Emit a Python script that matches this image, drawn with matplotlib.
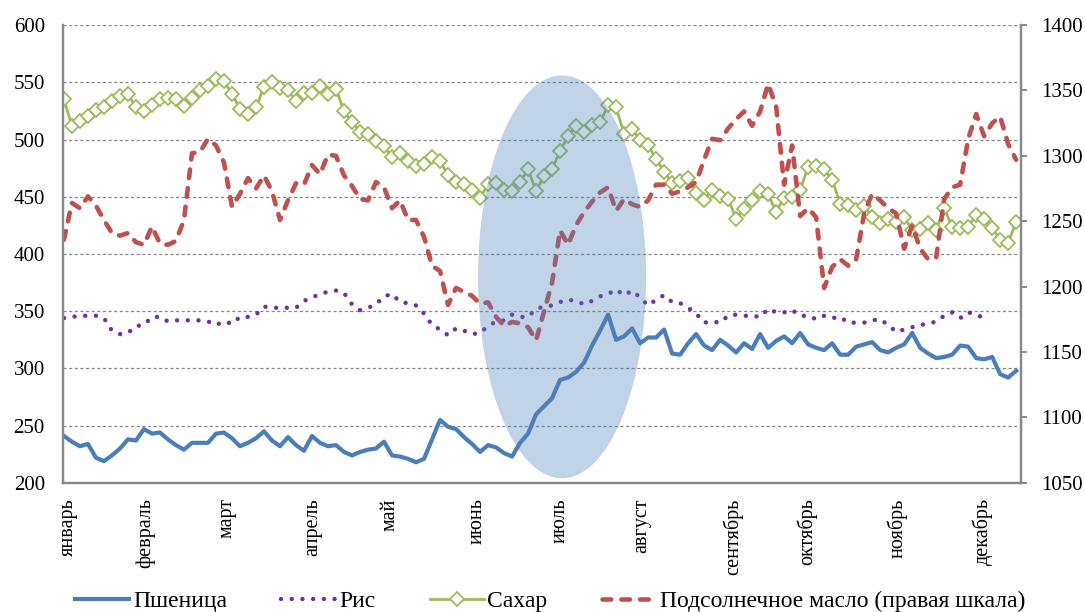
import numpy as np
import matplotlib
matplotlib.use("Agg")
import matplotlib.pyplot as plt
from matplotlib.patches import Ellipse

plt.rcParams["font.family"] = ["Liberation Serif", "DejaVu Serif"]

# samples over the year (index = observation number)
months = ["январь", "февраль", "март", "апрель", "май", "июнь",
          "июль", "август", "сентябрь", "октябрь", "ноябрь", "декабрь"]
month_pos = [0.5, 10.25, 20.4, 31.1, 40.75, 51.6, 62, 72.25, 83.6, 92.9, 104.1, 114.75]

wheat = [241, 236, 232, 234, 222, 219, 224, 230, 238, 237,
         247, 243, 244, 238, 233, 229, 235, 235, 235, 243,
         244, 239, 232, 235, 239, 245, 237, 232, 240, 233,
         228, 241, 235, 232, 233, 227, 224, 227, 229, 230,
         236, 224, 223, 221, 218, 221, 238, 255, 249, 247,
         240, 234, 227, 233, 231, 226, 223, 235, 243, 260,
         267, 274, 290, 292, 297, 305, 320, 333, 347, 325,
         328, 335, 322, 327, 327, 334, 313, 312, 322, 330,
         320, 316, 325, 320, 314, 322, 317, 330, 318, 324,
         328, 322, 331, 321, 318, 316, 322, 312, 312, 319,
         321, 323, 316, 314, 318, 321, 331, 318, 313, 309,
         310, 312, 320, 319, 309, 308, 310, 295, 292, 298]

rice = [344, 345, 346, 346, 346, 344, 333, 330, 331, 337,
        338, 345, 345, 341, 342, 342, 342, 342, 341, 338,
        341, 339, 345, 345, 347, 354, 353, 353, 353, 353,
        359, 362, 365, 367, 368, 366, 356, 351, 353, 356,
        363, 365, 358, 357, 355, 348, 338, 334, 329, 335,
        333, 330, 331, 337, 341, 342, 347, 345, 345, 352,
        354, 355, 358, 360, 359, 356, 359, 363, 365, 369,
        364, 368, 362, 355, 360, 364, 358, 357, 353, 348,
        340, 341, 340, 346, 347, 346, 346, 345, 352, 349,
        349, 351, 346, 346, 343, 346, 344, 345, 340, 340,
        340, 342, 343, 338, 332, 334, 336, 338, 339, 341,
        346, 349, 344, 349, 347, 344]

sugar = [535, 512, 516, 521, 526, 528, 534, 538, 540, 528,
         525, 530, 535, 536, 535, 529, 536, 543, 547, 553,
         551, 540, 527, 522, 528, 546, 550, 545, 543, 534,
         541, 541, 547, 540, 544, 525, 515, 507, 505, 499,
         494, 485, 488, 481, 477, 479, 485, 481, 469, 463,
         461, 456, 449, 461, 462, 456, 455, 463, 474, 455,
         468, 474, 490, 503, 512, 507, 513, 515, 530, 528,
         505, 509, 500, 495, 483, 472, 462, 464, 466, 453,
         447, 456, 451, 448, 431, 439, 447, 455, 452, 437,
         449, 450, 456, 476, 477, 474, 465, 444, 443, 438,
         442, 432, 427, 431, 428, 432, 421, 422, 427, 421,
         440, 424, 423, 424, 434, 431, 423, 412, 410, 428]

oil = [1236, 1264, 1260, 1269, 1262, 1251, 1241, 1239, 1241, 1234,
       1232, 1246, 1233, 1232, 1235, 1251, 1302, 1303, 1313, 1308,
       1295, 1261, 1271, 1283, 1275, 1285, 1273, 1251, 1266, 1279,
       1278, 1293, 1286, 1301, 1300, 1285, 1277, 1267, 1266, 1280,
       1276, 1260, 1266, 1251, 1251, 1238, 1216, 1212, 1186, 1199,
       1196, 1193, 1187, 1188, 1177, 1170, 1173, 1172, 1169, 1159,
       1181, 1203, 1243, 1232, 1247, 1257, 1265, 1272, 1276, 1258,
       1267, 1263, 1261, 1266, 1278, 1278, 1271, 1273, 1276, 1280,
       1297, 1313, 1312, 1321, 1328, 1334, 1323, 1334, 1355, 1338,
       1278, 1308, 1254, 1260, 1253, 1199, 1215, 1221, 1216, 1221,
       1256, 1271, 1266, 1260, 1256, 1229, 1247, 1229, 1221, 1222,
       1267, 1276, 1278, 1313, 1332, 1315, 1325, 1330, 1309, 1297]

# highlighted area: centre (x, y), width, height in left-axis units
highlight = (62.25, 380, 21, 352)

grey = "#888888"

fig = plt.figure(figsize=(10.85, 6.12), dpi=100)
ax = fig.add_axes([0.058, 0.211, 0.883, 0.748])
ax2 = ax.twinx()

l1, = ax.plot(np.arange(len(wheat)), wheat, color="#4a7ebb", lw=3,
              solid_joinstyle="round", label="Пшеница")
l2, = ax.plot(np.arange(len(rice)), rice, color="#7030a0", lw=3.2,
              dashes=(0.01, 2.4), dash_capstyle="round", label="Рис")
l3, = ax.plot(np.arange(len(sugar)), sugar, color="#9bbb59", lw=2,
              marker="D", ms=7, mfc="white", mec="#9bbb59", mew=1.3,
              label="Сахар")
l4, = ax2.plot(np.arange(len(oil)), oil, color="#c0504d", lw=3.3,
               dashes=(1.9, 2.2), dash_capstyle="round",
               label="Подсолнечное масло (правая шкала)")

ell = Ellipse(highlight[:2], highlight[2], highlight[3], transform=ax.transData,
              facecolor="#4f81bd", edgecolor="none", alpha=0.35, zorder=10)
ax2.add_patch(ell)

ax.set_xlim(-0.125, 119.6)
ax.set_ylim(200, 600)
ax2.set_ylim(1050, 1400)
ax.set_yticks(np.arange(200, 601, 50))
ax2.set_yticks(np.arange(1050, 1401, 50))
ax.set_xticks(month_pos)
ax.set_xticklabels(months, rotation=90, va="top", ha="center")

ax.yaxis.grid(True, color=grey, linestyle=(0, (2.5, 2)), lw=0.9)
ax.set_axisbelow(True)

for a in (ax, ax2):
    a.spines["top"].set_visible(False)
    for s in ("left", "right", "bottom"):
        a.spines[s].set_color(grey)
        a.spines[s].set_linewidth(1.6)

ax.tick_params(axis="y", length=0, pad=13, labelsize=15)
ax.tick_params(axis="x", length=0, pad=11, labelsize=14.5)
ax2.tick_params(axis="y", length=4.5, width=1.4, color=grey, pad=10, labelsize=15)

fig.legend(handles=[l1, l2, l3, l4], loc="lower center", ncol=4,
           bbox_to_anchor=(0.507, -0.035), frameon=False, fontsize=17,
           handlelength=2.3, handletextpad=0.15, columnspacing=2.3)

fig.savefig("out.png", dpi=100)
